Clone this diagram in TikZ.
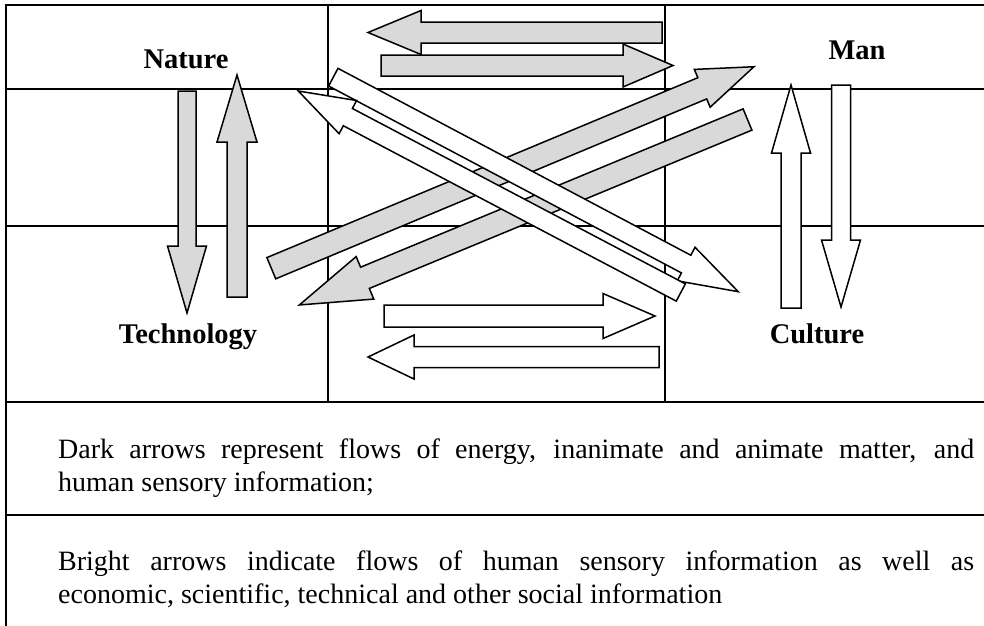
\documentclass[tikz,border=0pt]{standalone}
\usepackage{fontspec}
\setmainfont{Liberation Serif}
\definecolor{arrowgray}{RGB}{217,217,217}
% block arrow: #1 style, (#2,#3) tail centre, (#4,#5) tip, #6 shaft width, #7 head width, #8 head length
\newcommand\blockarrow[8]{%
  \pgfmathsetmacro\baAng{atan2((#3)-(#5),(#4)-(#2))}%
  \pgfmathsetmacro\baLen{veclen((#4)-(#2),(#5)-(#3))}%
  \pgfmathsetmacro\baB{\baLen-(#8)}%
  \pgfmathsetmacro\baW{(#6)/2}%
  \pgfmathsetmacro\baH{(#7)/2}%
  \draw[#1, shift={(#2,#3)}, rotate=\baAng] (0,-\baW) -- (\baB,-\baW) -- (\baB,-\baH) -- (\baLen,0) -- (\baB,\baH) -- (\baB,\baW) -- (0,\baW) -- cycle;}
\begin{document}
\begin{tikzpicture}[x=1pt,y=-1pt,
  gridline/.style={line width=2.2pt, line cap=rect},
  darkarrow/.style={fill=arrowgray, draw=black, line width=1.5pt, line join=miter},
  brightarrow/.style={fill=white, draw=black, line width=1.5pt, line join=miter},
  lbl/.style={font=\fontsize{28.5}{34}\selectfont\bfseries, inner sep=0, anchor=base},
  legend/.style={anchor=base west, inner sep=0}]
\useasboundingbox (0,0) rectangle (984,625);
% table grid
\draw[gridline] (6,625) -- (6,5) -- (990,5);
\draw[gridline] (6,89) -- (990,89);
\draw[gridline] (6,226) -- (990,226);
\draw[gridline] (6,402) -- (990,402);
\draw[gridline] (6,515) -- (990,515);
\draw[gridline] (328,5) -- (328,402);
\draw[gridline] (665,5) -- (665,402);
% labels
\node[lbl] (nature) at (186,68) {Nature};
\node[lbl] (man) at (857,59) {Man};
\node[lbl] (technology) at (188,343) {Technology};
\node[lbl] (culture) at (817,343) {Culture};
% dark arrows
\blockarrow{darkarrow}{662}{32.5}{368}{32.5}{21}{44}{53}
\blockarrow{darkarrow}{381}{65.5}{673}{65.5}{21}{43}{50}
\blockarrow{darkarrow}{187}{91}{187}{313}{18}{39}{67}
\blockarrow{darkarrow}{237}{297}{237}{75}{20}{40}{67}
\blockarrow{darkarrow}{271.3}{268.2}{754}{66.7}{23}{41}{56}
\blockarrow{darkarrow}{747.5}{119.5}{299.3}{305}{23}{46}{71}
% bright arrows
\blockarrow{brightarrow}{384}{316}{655}{316}{22}{45}{52}
\blockarrow{brightarrow}{659}{357}{368}{357}{21}{44}{46}
\blockarrow{brightarrow}{791}{308}{791}{85}{20}{39}{68}
\blockarrow{brightarrow}{841}{85}{841}{307}{19}{39}{67}
\blockarrow{brightarrow}{333.3}{77.2}{738.3}{291.7}{20}{38}{59}
\blockarrow{brightarrow}{680.8}{292.5}{298.3}{91}{19.5}{37.5}{56}
% legend texts
\node[legend] (darktext) at (58,458) {\parbox[t]{916pt}{\fontsize{28}{33}\selectfont\tolerance=10000\hyphenpenalty=10000
Dark arrows represent flows of energy, inanimate and animate matter, and\linebreak human sensory information;}};
\node[legend] (brighttext) at (58,570) {\parbox[t]{916pt}{\fontsize{28}{33}\selectfont\tolerance=10000\hyphenpenalty=10000
Bright arrows indicate flows of human sensory information as well as\linebreak economic, scientific, technical and other social information}};
\end{tikzpicture}
\end{document}
